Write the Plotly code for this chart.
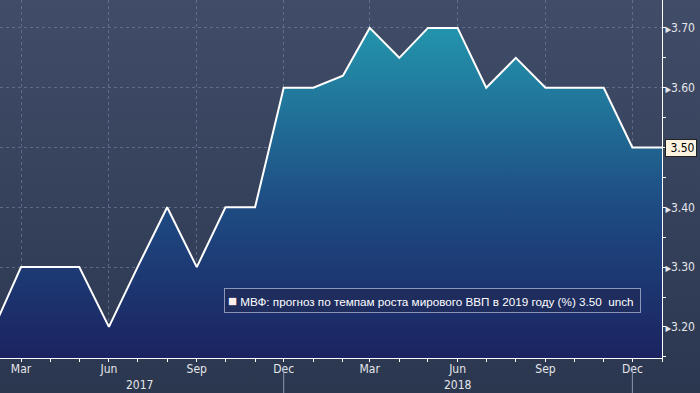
import base64
import plotly.graph_objects as go

# ---- data ----
months = ["2017-02-01", "2017-03-01", "2017-04-01", "2017-05-01", "2017-06-01", "2017-07-01",
          "2017-08-01", "2017-09-01", "2017-10-01", "2017-11-01", "2017-12-01", "2018-01-01",
          "2018-02-01", "2018-03-01", "2018-04-01", "2018-05-01", "2018-06-01", "2018-07-01",
          "2018-08-01", "2018-09-01", "2018-10-01", "2018-11-01", "2018-12-01", "2019-01-01"]
forecast = [3.20, 3.30, 3.30, 3.30, 3.20, 3.30,
            3.40, 3.30, 3.40, 3.40, 3.60, 3.60,
            3.62, 3.70, 3.65, 3.70, 3.70, 3.60,
            3.65, 3.60, 3.60, 3.60, 3.50, 3.50]
x_tickvals = ["2017-03-01", "2017-06-01", "2017-09-01", "2017-12-01",
              "2018-03-01", "2018-06-01", "2018-09-01", "2018-12-01"]
x_ticktext = ["Mar", "Jun", "Sep", "Dec", "Mar", "Jun", "Sep", "Dec"]
y_tickvals = [3.20, 3.30, 3.40, 3.50, 3.60, 3.70]
years = ["2017", "2018"]
year_centers = ["2017-07-03", "2018-06-01"]
year_separators = ["2017-12-01", "2018-12-01"]
last_value = forecast[-1]
legend_text = "МВФ: прогноз по темпам роста мирового ВВП в 2019 году (%) 3.50  unch"

x_range = ["2017-02-07", "2019-01-01"]
y_range = [3.148, 3.7467]

FONT = "Liberation Sans Narrow, DejaVu Sans Condensed, Liberation Sans, Arial"
PLOT_H = 358
PLOT_W = 662

# background gradient as svg data uri
svg = ('<svg xmlns="http://www.w3.org/2000/svg" width="700" height="393" preserveAspectRatio="none">'
       '<defs><linearGradient id="g" x1="0" y1="0" x2="0" y2="1">'
       '<stop offset="0" stop-color="#414c68"/><stop offset="1" stop-color="#2b374f"/>'
       '</linearGradient></defs><rect width="700" height="393" fill="url(#g)"/></svg>')
bg_uri = "data:image/svg+xml;base64," + base64.b64encode(svg.encode()).decode()

fig = go.Figure()
fig.add_trace(go.Scatter(
    x=months, y=forecast, mode="lines",
    line=dict(color="white", width=2),
    fill="tozeroy",
    fillgradient=dict(type="vertical", start=y_range[0], stop=3.70,
                      colorscale=[[0, "#1b2360"], [0.45, "#1e4a82"], [1, "#2394ac"]]),
    hoverinfo="skip", showlegend=False,
))

fig.update_layout(
    width=700, height=393,
    margin=dict(l=0, r=700 - PLOT_W, t=0, b=393 - PLOT_H),
    paper_bgcolor="#353f59",
    plot_bgcolor="rgba(0,0,0,0)",
    images=[dict(source=bg_uri, xref="paper", yref="paper", x=0, y=1,
                 sizex=700 / PLOT_W, sizey=393 / PLOT_H, sizing="stretch", layer="below",
                 xanchor="left", yanchor="top")],
    font=dict(family=FONT, color="#e4e6ea", size=12),
)

fig.update_xaxes(
    type="date", range=x_range,
    tickvals=x_tickvals, ticktext=x_ticktext,
    showgrid=True, gridcolor="rgba(120,140,170,0.55)", griddash="dot", gridwidth=1,
    ticks="outside", ticklen=3, tickcolor="white", tickwidth=1,
    ticklabelstandoff=-3,
    showline=True, linecolor="white", linewidth=1,
    minor=dict(dtick="M1", tick0="2017-01-01", ticks="outside", ticklen=3,
               tickcolor="white", showgrid=False),
    tickfont=dict(size=12, color="#e4e6ea"),
    zeroline=False,
)
fig.update_yaxes(
    side="right", range=y_range,
    tickvals=y_tickvals,
    ticktext=[("<span style='font-size:8px'>▶</span>%.2f" % v) if v != last_value else ""
              for v in y_tickvals],
    showgrid=True, gridcolor="rgba(120,140,170,0.55)", griddash="dot", gridwidth=1,
    ticks="", showline=True, linecolor="white", linewidth=1,
    minor=dict(dtick=0.05, tick0=3.15, ticks="outside", ticklen=3,
               tickcolor="white", showgrid=False),
    tickfont=dict(size=12, color="#e4e6ea"),
    zeroline=False,
)

# year labels & separators
for yr, c in zip(years, year_centers):
    fig.add_annotation(x=c, y=-27 / PLOT_H, xref="x", yref="paper", text=yr, showarrow=False,
                       font=dict(size=12, color="#e4e6ea", family=FONT), yanchor="middle")
for s in year_separators:
    fig.add_shape(type="line", x0=s, x1=s, xref="x", yref="paper",
                  y0=-8 / PLOT_H, y1=-36 / PLOT_H,
                  line=dict(color="#8d97ab", width=1))

# last value tag
fig.add_annotation(x=1, y=last_value, xref="paper", yref="y", xanchor="left",
                   xshift=3, text=" %.2f" % last_value, showarrow=False,
                   bgcolor="#fcf2e0", bordercolor="#222", borderwidth=1, borderpad=1,
                   font=dict(size=12, color="black", family=FONT))

# legend box
fig.add_annotation(x=224 / PLOT_W, y=(PLOT_H - 300) / PLOT_H, xref="paper", yref="paper",
                   xanchor="left", yanchor="middle", showarrow=False, align="left",
                   text="<span style='color:#fdf0ec;font-size:15px'>■</span> " + legend_text + " ",
                   bgcolor="#1e2c5e", bordercolor="#8a97b8", borderwidth=1, borderpad=3,
                   font=dict(size=11.7, color="white", family="Liberation Sans, Arial"))

fig.write_html("out.html")
